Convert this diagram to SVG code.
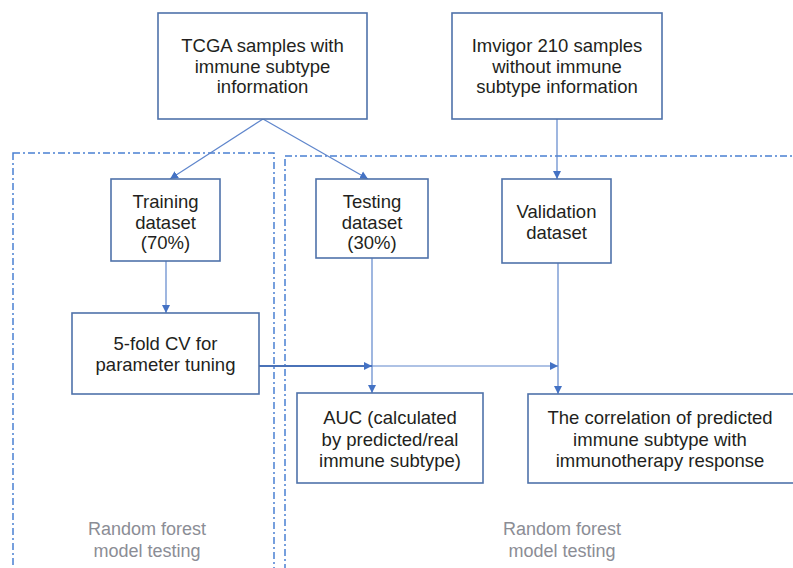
<svg xmlns="http://www.w3.org/2000/svg" width="793" height="568" viewBox="0 0 793 568">
<defs>
<marker id="arr" markerUnits="userSpaceOnUse" markerWidth="9" markerHeight="9" refX="8" refY="4.5" orient="auto">
<path d="M0,0.5 L8,4.5 L0,8.5 z" fill="#4472c4"/>
</marker>
<style>
.box{fill:#fff;stroke:#4f72aa;stroke-width:1.6}
.t{font-family:"Liberation Sans",Arial,Helvetica,sans-serif;font-size:18.5px;fill:#231f20;text-anchor:middle}
.g{font-family:"Liberation Sans",Arial,Helvetica,sans-serif;font-size:18px;fill:#8b8d95;text-anchor:middle}
.c{fill:none;stroke:#5f86cc;stroke-width:1.2}
.dash{fill:none;stroke:#4a80d2;stroke-width:1.5;stroke-dasharray:7 3 2 3}
</style>
</defs>
<rect width="793" height="568" fill="#fff"/>
<g id="regions">
<rect class="dash" x="13" y="153" width="261" height="440"/>
<rect class="dash" x="285" y="156" width="540" height="440"/>
<text class="g" x="147" y="535">Random forest</text>
<text class="g" x="147" y="557">model testing</text>
<text class="g" x="562" y="535">Random forest</text>
<text class="g" x="562" y="557">model testing</text>
</g>
<g id="connectors">
<line class="c" x1="263" y1="119" x2="170" y2="179" marker-end="url(#arr)"/>
<line class="c" x1="263" y1="119" x2="368" y2="179" marker-end="url(#arr)"/>
<line class="c" x1="557" y1="119" x2="557" y2="179" marker-end="url(#arr)"/>
<line class="c" x1="166" y1="261" x2="166" y2="313" marker-end="url(#arr)"/>
<line class="c" x1="372" y1="258" x2="372" y2="393" marker-end="url(#arr)"/>
<line class="c" x1="558" y1="263" x2="558" y2="394" marker-end="url(#arr)"/>
<line class="c" x1="259" y1="366" x2="372" y2="366" style="stroke-width:2;stroke:#4a72b8" marker-end="url(#arr)"/>
<line class="c" x1="372" y1="366" x2="558" y2="366" marker-end="url(#arr)"/>
</g>
<g id="tcga">
<rect class="box" x="158" y="13" width="209" height="106"/>
<text class="t" x="262.5" y="51.5">TCGA samples with</text>
<text class="t" x="262.5" y="72.5">immune subtype</text>
<text class="t" x="262.5" y="93">information</text>
</g>
<g id="imvigor">
<rect class="box" x="452" y="13" width="210" height="106"/>
<text class="t" x="557" y="51.5">Imvigor 210 samples</text>
<text class="t" x="557" y="72.5">without immune</text>
<text class="t" x="557" y="93">subtype information</text>
</g>
<g id="training">
<rect class="box" x="111" y="179" width="109" height="82"/>
<text class="t" x="165.5" y="208">Training</text>
<text class="t" x="165.5" y="228.5">dataset</text>
<text class="t" x="165.5" y="249">(70%)</text>
</g>
<g id="testing">
<rect class="box" x="316" y="179" width="112" height="79"/>
<text class="t" x="372" y="208">Testing</text>
<text class="t" x="372" y="228.5">dataset</text>
<text class="t" x="372" y="249">(30%)</text>
</g>
<g id="validation">
<rect class="box" x="502" y="179" width="109" height="84"/>
<text class="t" x="556.5" y="218">Validation</text>
<text class="t" x="556.5" y="238.5">dataset</text>
</g>
<g id="cv">
<rect class="box" x="72" y="313" width="187" height="81"/>
<text class="t" x="165.5" y="349.5">5-fold CV for</text>
<text class="t" x="165.5" y="370.5">parameter tuning</text>
</g>
<g id="auc">
<rect class="box" x="297" y="393" width="186" height="90"/>
<text class="t" x="390" y="424">AUC (calculated</text>
<text class="t" x="390" y="445.5">by predicted/real</text>
<text class="t" x="390" y="467">immune subtype)</text>
</g>
<g id="correlation">
<rect class="box" x="528" y="394" width="275" height="89"/>
<text class="t" x="660" y="424">The correlation of predicted</text>
<text class="t" x="660" y="445.5">immune subtype with</text>
<text class="t" x="660" y="467">immunotherapy response</text>
</g>
</svg>
